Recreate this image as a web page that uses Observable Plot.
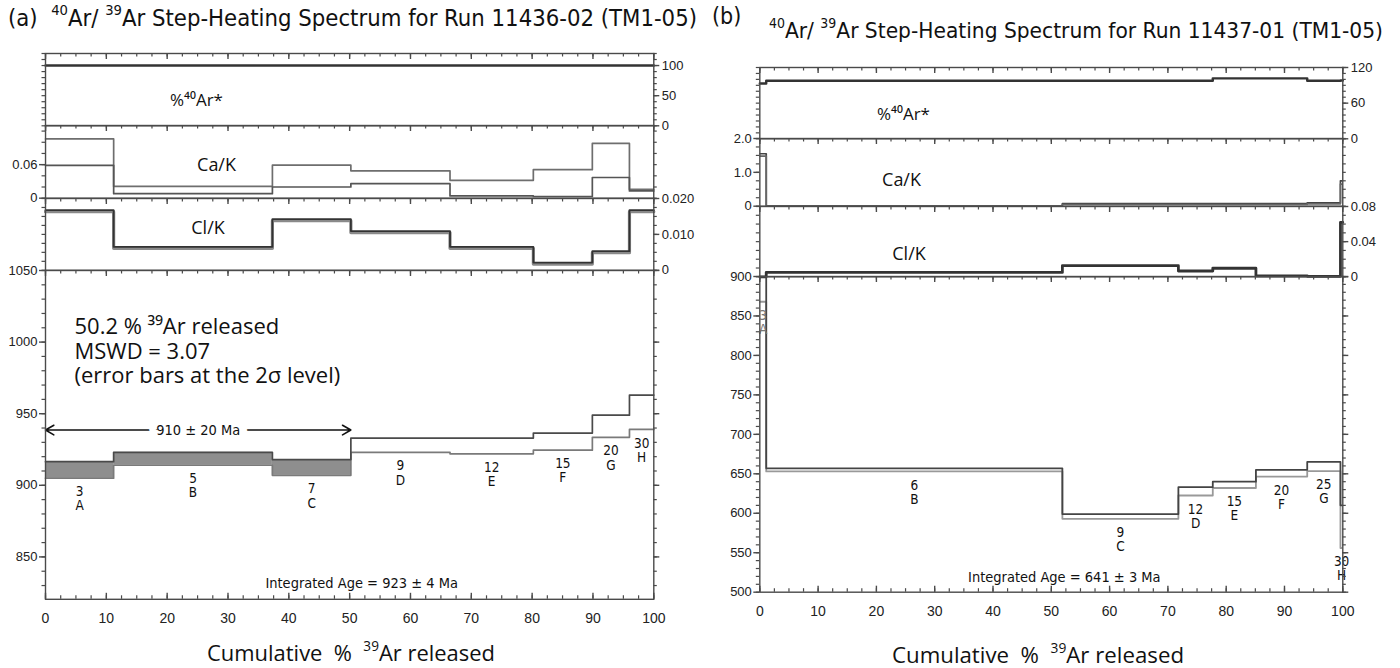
<!DOCTYPE html>
<html><head><meta charset="utf-8">
<script src="https://cdn.jsdelivr.net/npm/d3@7"></script>
<script src="https://cdn.jsdelivr.net/npm/@observablehq/plot@0.6"></script>
<style>
body{margin:0;background:#fff;}
#root{position:relative;width:1400px;height:668px;overflow:hidden;background:#fff;}
.abs{position:absolute;}
.ttl{position:absolute;white-space:nowrap;color:#111;font-family:"Liberation Sans Narrow","DejaVu Sans Condensed","Liberation Sans",sans-serif;transform-origin:left center;}
.xt{position:absolute;white-space:nowrap;color:#111;font-family:"Open Sans","DejaVu Sans",sans-serif;transform-origin:left center;}
sup{font-size:62%;vertical-align:0.75em;line-height:0;}
</style></head><body><div id="root"></div>
<script>
// ---------------- DATA ----------------
// Panel (a) : Run 11436-02
const stepsA = ["A","B","C","D","E","F","G","H"];
const tempsA = [3, 5, 7, 9, 12, 15, 20, 30];
const cumA = [0, 11.2, 37.3, 50.2, 66.5, 80.2, 89.9, 96.0, 100];
const ageLoA = [905, 914, 907, 923, 922, 924.5, 933.5, 939];
const ageHiA = [916.5, 923, 918, 933, 933, 936.5, 949, 963];
const plateauStepsA = ["A","B","C"];
const arStarA = [100, 100, 100, 100, 100, 100, 100, 100];
const caKHiA = [0.106, 0.021, 0.059, 0.049, 0.032, 0.051, 0.098, 0.016];
const caKLoA = [0.0587, 0.008, 0.020, 0.026, 0.004, 0.003, 0.037, 0.013];
const clKA = [0.0166, 0.0064, 0.0141, 0.0108, 0.0064, 0.0020, 0.0052, 0.0166];
const plateauAgeA = "910 ± 20 Ma";
const plateauLevelA = 938.6;
const integratedA = "Integrated Age = 923 ± 4 Ma";
const notesA = "50.2 % ³⁹Ar released\nMSWD = 3.07\n(error bars at the 2σ level)";

// Panel (b) : Run 11437-01
const stepsB = ["A","B","C","D","E","F","G","H"];
const tempsB = [3, 6, 9, 12, 15, 20, 25, 30];
const cumB = [0, 1.1, 51.9, 71.8, 77.7, 85.1, 93.9, 99.6, 100];
const ageLoB = [868, 653, 593, 622.5, 632, 646.5, 653.5, 556];
const ageHiB = [920, 657, 599, 633, 640, 655, 665, 610];
const arStarB = [93, 97.8, 97.8, 97.8, 101.7, 101.7, 97.8, 98];
const caKHiB = [1.55, 0.01, 0.08, 0.08, 0.08, 0.08, 0.10, 0.75];
const caKLoB = [1.48, 0.0, 0.05, 0.05, 0.05, 0.05, 0.07, 0.65];
const clKB = [0.0, 0.005, 0.0127, 0.0066, 0.0097, 0.001, 0.0005, 0.062];
const integratedB = "Integrated Age = 641 ± 3 Ma";

// tick values
const xMajor = d3.range(0, 100.01, 10);
const xMinor = d3.range(0, 100.01, 2.5);

// ---------------- HELPERS ----------------
const root = document.getElementById("root");
const SANS = '"Liberation Sans", Arial, sans-serif';
const NARROW = '"Liberation Sans Narrow","DejaVu Sans Condensed","Liberation Sans",sans-serif';
const CASUAL = '"Open Sans","DejaVu Sans",sans-serif';

function stepPts(cum, vals) {
  const pts = vals.map((v, i) => ({x: cum[i], y: v}));
  pts.push({x: cum[cum.length - 1], y: vals[vals.length - 1]});
  return pts;
}
const fmt = (d) => d === 0 ? "0" : String(d);

function axes(o, plotW, plotH) {
  const c = "#4a4a4a";
  const m = [];
  const MAJ = 6, MIN = 3.5;
  // inward ticks on the top edge
  m.push(Plot.ruleX(xMinor, {x: d => d, insetBottom: plotH - MIN, stroke: c, strokeWidth: 1.2}));
  m.push(Plot.ruleX(xMajor, {x: d => d, insetBottom: plotH - MAJ, stroke: c, strokeWidth: 1.4}));
  if (o.bottom) {
    m.push(Plot.ruleX(xMinor, {x: d => d, insetTop: plotH - MIN, stroke: c, strokeWidth: 1.2}));
    m.push(Plot.ruleX(xMajor, {x: d => d, insetTop: plotH - MAJ, stroke: c, strokeWidth: 1.4}));
    m.push(Plot.axisX({anchor: "bottom", ticks: xMajor, tickSize: 0, tickPadding: 14, label: null, color: "#222", fontSize: 14}));
  }
  for (const side of ["left", "right"]) {
    const s = o[side + "Axis"];
    if (!s) continue;
    const ins = (len) => side === "left" ? {insetLeft: -len, insetRight: plotW} : {insetLeft: plotW, insetRight: -len};
    if (s.minor) m.push(Plot.ruleY(s.minor, {y: d => d, ...ins(MIN), stroke: c, strokeWidth: 1.2}));
    if (s.major) {
      m.push(Plot.ruleY(s.major, {y: d => d, ...ins(MAJ), stroke: c, strokeWidth: 1.4}));
      if (s.labels) m.push(Plot.axisY({anchor: side, ticks: s.major, tickSize: 0, tickPadding: MAJ + 2,
        tickFormat: s.fmt || fmt, label: null, color: "#222"}));
    }
  }
  m.push(Plot.frame({stroke: c, strokeWidth: 1.4}));
  return m;
}

function sub(cfg) {
  const mT = 14, mB = cfg.bottom ? 40 : 14;
  const plotH = cfg.y1 - cfg.y0, plotW = 700 - cfg.mL - cfg.mR;
  const svg = Plot.plot({
    width: 700, height: plotH + mT + mB,
    marginLeft: cfg.mL, marginRight: cfg.mR, marginTop: mT, marginBottom: mB,
    x: {domain: [0, 100], axis: null},
    y: {domain: cfg.domain, axis: null},
    style: {background: "transparent", overflow: "visible", fontFamily: SANS, fontSize: "13px", color: "#222"},
    marks: [...cfg.marks, ...axes(cfg, plotW, plotH)]
  });
  const div = document.createElement("div");
  div.className = "abs";
  div.style.left = cfg.posX + "px";
  div.style.top = (cfg.y0 - mT) + "px";
  div.appendChild(svg);
  root.appendChild(div);
}

function panelLabel(text, dx, dy, size) {
  return Plot.text([text], {frameAnchor: "top-left", dx, dy, text: d => d, fontSize: size,
    fontFamily: CASUAL, fill: "#111", textAnchor: "middle"});
}

function stepLabels(cum, lo, temps, steps, extra = {}) {
  const idx = d3.range(steps.length);
  return Plot.text(idx, {
    x: i => (cum[i] + cum[i + 1]) / 2, y: i => lo[i],
    text: i => temps[i] + "\n" + steps[i],
    lineAnchor: "top", dy: 8, lineHeight: 1.05, fontSize: 13.5, fontFamily: NARROW, fill: "#111", ...extra
  });
}

// ---------------- PANEL (a) ----------------
const A = {posX: 0, mL: 45, mR: 46.7};
sub({...A, y0: 52.7, y1: 125, domain: [0, 120],
  leftAxis: {minor: d3.range(0, 120.1, 10)},
  rightAxis: {minor: d3.range(0, 120.1, 10), major: [0, 50, 100], labels: true},
  marks: [
    Plot.line(stepPts(cumA, arStarA), {x: "x", y: "y", curve: "step-after", stroke: "#333", strokeWidth: 2.4}),
    panelLabel("%⁴⁰Ar*", 151, 40, 17)
  ]});
sub({...A, y0: 125, y1: 197.7, domain: [0, 0.13],
  leftAxis: {minor: d3.range(0, 0.1301, 0.02), major: [0, 0.06], labels: true},
  rightAxis: {minor: d3.range(0, 0.1301, 0.02)},
  marks: [
    Plot.line(stepPts(cumA, caKHiA), {x: "x", y: "y", curve: "step-after", stroke: "#6e6e6e", strokeWidth: 1.7}),
    Plot.line(stepPts(cumA, caKLoA), {x: "x", y: "y", curve: "step-after", stroke: "#555", strokeWidth: 1.7}),
    panelLabel("Ca/K", 171, 32.7, 18)
  ]});
sub({...A, y0: 197.7, y1: 269.5, domain: [0, 0.02],
  leftAxis: {minor: d3.range(0, 0.02001, 0.0025)},
  rightAxis: {minor: d3.range(0, 0.02001, 0.0025), major: [0, 0.01, 0.02], labels: true, fmt: d => d === 0 ? "0" : d3.format(".3f")(d)},
  marks: [
    Plot.line(stepPts(cumA, clKA), {x: "x", y: "y", curve: "step-after", stroke: "#8a8a8a", strokeWidth: 3.2, dy: 1}),
    Plot.line(stepPts(cumA, clKA), {x: "x", y: "y", curve: "step-after", stroke: "#333", strokeWidth: 1.8, dy: -0.5}),
    panelLabel("Cl/K", 162.5, 22.3, 18)
  ]});
const plateauIdxA = stepsA.map((s, i) => i).filter(i => plateauStepsA.includes(stepsA[i]));
const midPlateauA = (cumA[0] + cumA[plateauIdxA.length]) / 2;
sub({...A, y0: 269.5, y1: 598.3, domain: [820.4, 1050], bottom: true,
  leftAxis: {minor: d3.range(830, 1050.1, 10), major: [850, 900, 950, 1000, 1050], labels: true},
  rightAxis: {minor: d3.range(830, 1050.1, 10), major: [850, 900, 950, 1000, 1050]},
  marks: [
    Plot.rect(plateauIdxA, {x1: i => cumA[i], x2: i => cumA[i + 1], y1: i => ageLoA[i], y2: i => ageHiA[i], fill: "#8e8e8e"}),
    Plot.line(stepPts(cumA, ageLoA), {x: "x", y: "y", curve: "step-after", stroke: "#7a7a7a", strokeWidth: 1.7}),
    Plot.line(stepPts(cumA, ageHiA), {x: "x", y: "y", curve: "step-after", stroke: "#4a4a4a", strokeWidth: 1.7}),
    stepLabels(cumA, ageLoA, tempsA, stepsA),
    Plot.arrow([0], {x1: midPlateauA, x2: cumA[0], y1: plateauLevelA, y2: plateauLevelA, stroke: "#111", strokeWidth: 1.6, headLength: 9, bend: 0}),
    Plot.arrow([0], {x1: midPlateauA, x2: cumA[plateauIdxA.length], y1: plateauLevelA, y2: plateauLevelA, stroke: "#111", strokeWidth: 1.6, headLength: 9, bend: 0}),
    Plot.text([plateauAgeA], {x: midPlateauA, y: plateauLevelA, text: d => d, fontSize: 14.5, fontFamily: NARROW,
      fill: "#111", stroke: "white", strokeWidth: 16, paintOrder: "stroke"}),
    Plot.text([notesA], {frameAnchor: "top-left", dx: 29, dy: 46, text: d => d, textAnchor: "start", lineAnchor: "top",
      fontSize: 22, lineHeight: 1.12, fontFamily: CASUAL, fill: "#111"}),
    Plot.text([integratedA], {frameAnchor: "bottom", dx: 12, dy: -11.5, text: d => d, fontSize: 14.5, fontFamily: NARROW, fill: "#111"})
  ]});

// ---------------- PANEL (b) ----------------
const B = {posX: 700, mL: 59.3, mR: 57.7};
sub({...B, y0: 66.7, y1: 138, domain: [0, 120],
  leftAxis: {minor: d3.range(0, 120.1, 10)},
  rightAxis: {minor: d3.range(0, 120.1, 10), major: [0, 60, 120], labels: true},
  marks: [
    Plot.line(stepPts(cumB, arStarB), {x: "x", y: "y", curve: "step-after", stroke: "#333", strokeWidth: 2.4}),
    panelLabel("%⁴⁰Ar*", 143.7, 40, 17)
  ]});
sub({...B, y0: 138, y1: 205.7, domain: [0, 2],
  leftAxis: {minor: d3.range(0, 2.01, 0.25), major: [0, 1, 2], labels: true, fmt: d => d === 0 ? "0" : d3.format(".1f")(d)},
  rightAxis: {minor: d3.range(0, 2.01, 0.25)},
  marks: [
    Plot.line(stepPts(cumB, caKHiB), {x: "x", y: "y", curve: "step-after", stroke: "#444", strokeWidth: 1.7, clip: true}),
    Plot.line(stepPts(cumB, caKLoB), {x: "x", y: "y", curve: "step-after", stroke: "#666", strokeWidth: 1.7, clip: true}),
    panelLabel("Ca/K", 141.7, 35, 18)
  ]});
sub({...B, y0: 205.7, y1: 276, domain: [0, 0.08],
  leftAxis: {minor: d3.range(0, 0.0801, 0.01)},
  rightAxis: {minor: d3.range(0, 0.0801, 0.01), major: [0, 0.04, 0.08], labels: true, fmt: d => d === 0 ? "0" : d3.format(".2f")(d)},
  marks: [
    Plot.line(stepPts(cumB, clKB), {x: "x", y: "y", curve: "step-after", stroke: "#333", strokeWidth: 2.8}),
    panelLabel("Cl/K", 149.2, 40.7, 18)
  ]});
sub({...B, y0: 276, y1: 591.7, domain: [500, 900], bottom: true,
  leftAxis: {minor: d3.range(500, 900.1, 10), major: d3.range(500, 900.1, 50), labels: true},
  rightAxis: {minor: d3.range(500, 900.1, 10), major: d3.range(500, 900.1, 50)},
  marks: [
    Plot.line(stepPts(cumB, ageLoB), {x: "x", y: "y", curve: "step-after", stroke: "#999", strokeWidth: 1.8, clip: true}),
    Plot.line(stepPts(cumB, ageHiB), {x: "x", y: "y", curve: "step-after", stroke: "#444", strokeWidth: 1.8, clip: true}),
    stepLabels(cumB, ageLoB, tempsB, stepsB, {fill: i => i === 0 ? "#777" : "#111"}),
    Plot.text([integratedB], {frameAnchor: "bottom", dx: 13, dy: -10, text: d => d, fontSize: 14.5, fontFamily: NARROW, fill: "#111"})
  ]});

// ---------------- TITLES ----------------
function addText(cls, html, left, cy, size, target) {
  const el = document.createElement("div");
  el.className = cls;
  el.innerHTML = html;
  el.style.left = left + "px";
  el.style.fontSize = size + "px";
  el.style.lineHeight = size + "px";
  el.style.top = (cy - size / 2) + "px";
  root.appendChild(el);
  if (target) {
    const w = el.getBoundingClientRect().width;
    el.style.transform = `scaleX(${target / w})`;
  }
  return el;
}
addText("ttl", "(a)&nbsp;&nbsp;<sup>40</sup>Ar/ <sup>39</sup>Ar Step-Heating Spectrum for Run 11436-02 (TM1-05)", 8, 18, 23, 689);
addText("ttl", "(b)", 712, 16, 23);
addText("ttl", "<sup>40</sup>Ar/ <sup>39</sup>Ar Step-Heating Spectrum for Run 11437-01 (TM1-05)", 769, 31, 22, 614);
addText("xt", "Cumulative&nbsp; % &nbsp;<sup>39</sup>Ar released", 207, 652, 22, 288);
addText("xt", "Cumulative&nbsp; % &nbsp;<sup>39</sup>Ar released", 892, 654, 22, 292);
</script></body></html>
